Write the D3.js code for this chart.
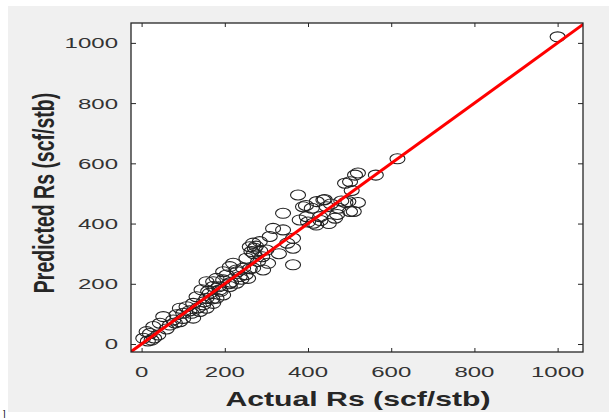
<html>
<head>
<style>
  body { margin: 0; background: #fff; }
  .tk { font-family: "Liberation Sans", Arial, sans-serif; font-size: 15.5px; fill: #333; }
  .lbl { font-family: "Liberation Sans", Arial, sans-serif; font-size: 19.5px; font-weight: bold; fill: #262626; }
</style>
</head>
<body>
<svg id="chart" width="609" height="418"></svg>
<script src="https://d3js.org/d3.v7.min.js"></script>
<script>
// actual vs predicted Rs (scf/stb)
let actual = [1000, 615, 563, 520, 513, 501, 489, 376, 421, 437, 388, 409, 445, 473, 497, 501, 465, 429,
  397, 413, 380, 340, 316, 340, 364, 364, 364, 268, 272, 260, 284, 264, 308, 300, 252, 280, 268, 292,
  304, 256, 244, 220, 228, 212, 204, 228, 196, 180, 172, 188, 164, 144, 132, 156, 180, 196, 172, 148,
  124, 108, 92, 100, 84, 120, 140, 76, 52, 44, 68, 28, 12, 4, 24, 92, 124, 156, 212, 172, 236, 156,
  196, 420, 430, 450, 470, 490, 510, 520, 505, 480, 455, 400, 270, 285, 275, 250, 240, 210, 190, 170,
  150, 135, 115, 100, 80, 60, 40, 30, 15, 20, 160, 185, 215, 230, 260, 290, 330, 350, 440, 395]
let predicted = [1020, 615, 561, 568, 561, 539, 534, 495, 473, 478, 456, 451, 456, 451, 473, 440, 418, 423,
  423, 401, 412, 434, 384, 379, 351, 318, 263, 335, 318, 323, 340, 307, 357, 312, 285, 274, 252, 246,
  268, 218, 252, 268, 246, 257, 229, 202, 213, 218, 191, 180, 169, 180, 157, 152, 152, 163, 135, 130,
  135, 124, 119, 102, 97, 102, 108, 80, 91, 69, 63, 58, 41, 19, 13, 74, 86, 119, 191, 207, 224, 207,
  240, 395, 410, 400, 430, 470, 440, 470, 510, 475, 465, 405, 300, 310, 325, 230, 215, 200, 175, 150,
  140, 120, 110, 85, 70, 50, 30, 20, 10, 35, 175, 190, 205, 240, 250, 290, 300, 335, 480, 460]
let xTicks = [0, 200, 400, 600, 800, 1000]
let yTicks = [0, 200, 400, 600, 800, 1000]

// the picture is stretched sideways, so texts and markers are too
let sx = 1.55

let svg = d3.select("#chart")

svg.append("rect").attr("x", 8).attr("y", 6).attr("width", 601).attr("height", 406).attr("fill", "#f0f0f0")
svg.append("text").attr("x", 3).attr("y", 417).attr("font-size", 9).attr("font-family", "Liberation Sans").text("]")

let axL = 131, axR = 583, axT = 23, axB = 352

let x = d3.scaleLinear().domain([-25.5, 1061]).range([axL, axR])
let y = d3.scaleLinear().domain([-26.5, 1066]).range([axB, axT])

svg.append("rect").attr("x", axL).attr("y", axT)
  .attr("width", axR - axL).attr("height", axB - axT)
  .attr("fill", "white")

let clip = svg.append("clipPath").attr("id", "clip")
clip.append("rect").attr("x", axL).attr("y", axT).attr("width", axR - axL).attr("height", axB - axT)

let plot = svg.append("g").attr("clip-path", "url(#clip)")

plot.selectAll("ellipse")
  .data(actual.map((a, i) => [a, predicted[i]]))
  .enter()
  .append("ellipse")
  .attr("cx", d => x(d[0]))
  .attr("cy", d => y(d[1]))
  .attr("rx", 7.5)
  .attr("ry", 5)
  .attr("fill", "none")
  .attr("stroke", "#222")
  .attr("stroke-width", 1.1)

plot.append("line")
  .attr("x1", x(-30)).attr("y1", y(-30))
  .attr("x2", x(1070)).attr("y2", y(1070))
  .attr("stroke", "#ff0000").attr("stroke-width", 3)

function styleAxis(g) {
  g.select(".domain").remove()
  g.selectAll(".tick line").attr("stroke", "#262626")
  g.selectAll(".tick text").remove()
}

svg.append("g").attr("transform", `translate(0,${axB})`)
  .call(d3.axisBottom(x).tickValues(xTicks).tickSizeInner(-4)).call(styleAxis)
svg.append("g").attr("transform", `translate(0,${axT})`)
  .call(d3.axisTop(x).tickValues(xTicks).tickSizeInner(-4)).call(styleAxis)
svg.append("g").attr("transform", `translate(${axL},0)`)
  .call(d3.axisLeft(y).tickValues(yTicks).tickSizeInner(-5)).call(styleAxis)
svg.append("g").attr("transform", `translate(${axR},0)`)
  .call(d3.axisRight(y).tickValues(yTicks).tickSizeInner(-5)).call(styleAxis)

// tick labels, stretched like the picture
svg.append("g").selectAll("g")
  .data(xTicks).enter().append("g")
  .attr("transform", d => `translate(${x(d)},377) scale(${sx},1)`)
  .append("text").attr("class", "tk").attr("text-anchor", "middle")
  .text(d3.format("d"))

svg.append("g").selectAll("g")
  .data(yTicks).enter().append("g")
  .attr("transform", d => `translate(${axL - 13},${y(d)}) scale(${sx},1)`)
  .append("text").attr("class", "tk").attr("text-anchor", "end").attr("dy", "0.35em")
  .text(d3.format("d"))

svg.append("rect").attr("x", axL).attr("y", axT)
  .attr("width", axR - axL).attr("height", axB - axT)
  .attr("fill", "none").attr("stroke", "#262626").attr("stroke-width", 1.3)

svg.append("text").attr("class", "lbl")
  .attr("transform", `translate(358,406) scale(${sx},1)`)
  .attr("text-anchor", "middle")
  .text("Actual Rs (scf/stb)")

svg.append("text").attr("class", "lbl")
  .attr("transform", `translate(54,193) scale(${sx},1) rotate(-90)`)
  .attr("text-anchor", "middle")
  .text("Predicted Rs (scf/stb)")
</script>
</body>
</html>
